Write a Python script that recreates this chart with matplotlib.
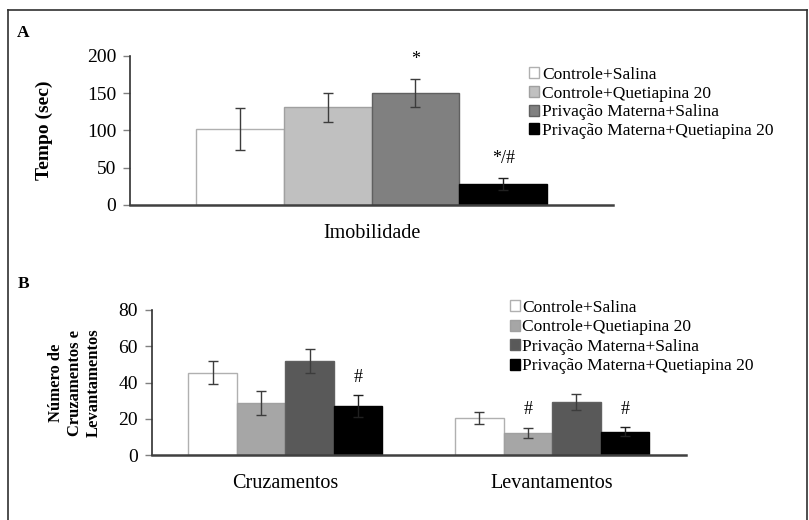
import numpy as np
import matplotlib
matplotlib.use("Agg")
import matplotlib.pyplot as plt
from matplotlib.lines import Line2D

plt.rcParams['font.family'] = ['Liberation Serif', 'DejaVu Serif']

# Grupos experimentais
groups = ["Controle+Salina", "Controle+Quetiapina 20",
          "Privação Materna+Salina", "Privação Materna+Quetiapina 20"]

# Painel A - tempo de imobilidade (s)
imob_mean = [102, 131, 150, 28]
imob_err = [28, 20, 19, 8]
imob_marks = ["", "", "*", "*/#"]

# Painel B - cruzamentos e levantamentos
categories_b = ["Cruzamentos", "Levantamentos"]
cruz_mean = [45.5, 28.5, 52.0, 27.0]
cruz_err = [6.2, 6.7, 6.5, 6.0]
lev_mean = [20.3, 12.2, 29.5, 12.9]
lev_err = [3.4, 2.9, 4.4, 2.4]
cruz_marks = ["", "", "", "#"]
lev_marks = ["", "#", "", "#"]

colors_a = ["white", "#c0c0c0", "#808080", "black"]
colors_b = ["white", "#a6a6a6", "#595959", "black"]
edges = ["#b0b0b0", "#a0a0a0", "#606060", "black"]
err_colors = ["#3c3c3c", "#3c3c3c", "#3c3c3c", "#202020"]

fig = plt.figure(figsize=(8.09, 5.20), dpi=100)
W, H = 809.0, 520.0


def style_axis(ax):
    for s in ["top", "right"]:
        ax.spines[s].set_visible(False)
    ax.spines["left"].set_color("#303030")
    ax.spines["bottom"].set_color("#404040")
    ax.spines["left"].set_linewidth(1.2)
    ax.spines["bottom"].set_linewidth(1.8)
    ax.tick_params(axis="y", length=5, width=1, color="#808080",
                   labelsize=14, pad=5)
    ax.tick_params(axis="x", length=0, labelsize=14.5, pad=14)


# ---------------- Painel A ----------------
axA = fig.add_axes([130 / W, 1 - 205 / H, 483 / W, 149 / H])
style_axis(axA)
xa = np.arange(4) - 1.5
for i in range(4):
    axA.bar(xa[i], imob_mean[i], width=1.0, color=colors_a[i],
            edgecolor=edges[i], linewidth=1, label=groups[i], zorder=2)
    axA.errorbar(xa[i], imob_mean[i], yerr=imob_err[i], fmt="none",
                 ecolor=err_colors[i], elinewidth=1, capsize=3.5, capthick=1, zorder=3)
    if imob_marks[i]:
        axA.annotate(imob_marks[i], (xa[i], imob_mean[i] + imob_err[i]),
                     xytext=(0, 14), textcoords="offset points",
                     ha="center", va="center", fontsize=13)
axA.set_xlim(-2.75, 2.75)
axA.set_ylim(0, 200)
axA.set_yticks([0, 50, 100, 150, 200])
axA.set_xticks([0])
axA.set_xticklabels(["Imobilidade"])
axA.set_ylabel("Tempo (sec)", fontsize=14, fontweight="bold", labelpad=24)
axA.legend(loc="upper left", bbox_to_anchor=(529 / W, 1 - 67 / H),
           bbox_transform=fig.transFigure, frameon=False, fontsize=12.5,
           handlelength=0.6, handleheight=0.6, handletextpad=0.15,
           labelspacing=0.15, borderpad=0, borderaxespad=0)

# ---------------- Painel B ----------------
axB = fig.add_axes([152 / W, 1 - 455 / H, 533.5 / W, 145 / H])
style_axis(axB)
wb = 0.1816
xb = np.arange(2)
offsets = (np.arange(4) - 1.5) * wb
for i in range(4):
    vals = [cruz_mean[i], lev_mean[i]]
    errs = [cruz_err[i], lev_err[i]]
    axB.bar(xb + offsets[i], vals, width=wb, color=colors_b[i],
            edgecolor=edges[i], linewidth=1, label=groups[i], zorder=2)
    axB.errorbar(xb + offsets[i], vals, yerr=errs, fmt="none",
                 ecolor=err_colors[i], elinewidth=1, capsize=3.5, capthick=1, zorder=3)
    for j, mark in enumerate([cruz_marks[i], lev_marks[i]]):
        if mark:
            axB.annotate(mark, (xb[j] + offsets[i], vals[j] + errs[j]),
                         xytext=(0, 13), textcoords="offset points",
                         ha="center", va="center", fontsize=13)
axB.set_xlim(-0.5, 1.5)
axB.set_ylim(0, 80)
axB.set_yticks([0, 20, 40, 60, 80])
axB.set_xticks(xb)
axB.set_xticklabels(categories_b)
axB.set_ylabel("Número de\nCruzamentos e\nLevantamentos", fontsize=12,
               fontweight="bold", labelpad=12, linespacing=1.25)
axB.legend(loc="upper left", bbox_to_anchor=(510 / W, 1 - 300 / H),
           bbox_transform=fig.transFigure, frameon=False, fontsize=12.5,
           handlelength=0.6, handleheight=0.6, handletextpad=0.1,
           labelspacing=0.2, borderpad=0, borderaxespad=0)

# rótulos dos painéis
fig.text(17 / W, 1 - 33 / H, "A", fontsize=12.5, fontweight="bold", va="center")
fig.text(18 / W, 1 - 284 / H, "B", fontsize=12.5, fontweight="bold", va="center")

# moldura
for xs, ys in [([8, 8], [10, 520]), ([8, 807], [10, 10]), ([807, 807], [10, 520])]:
    fig.add_artist(Line2D(np.array(xs) / W, 1 - np.array(ys) / H,
                          color="#303030", linewidth=1.2))

fig.savefig("out.png", dpi=100)
